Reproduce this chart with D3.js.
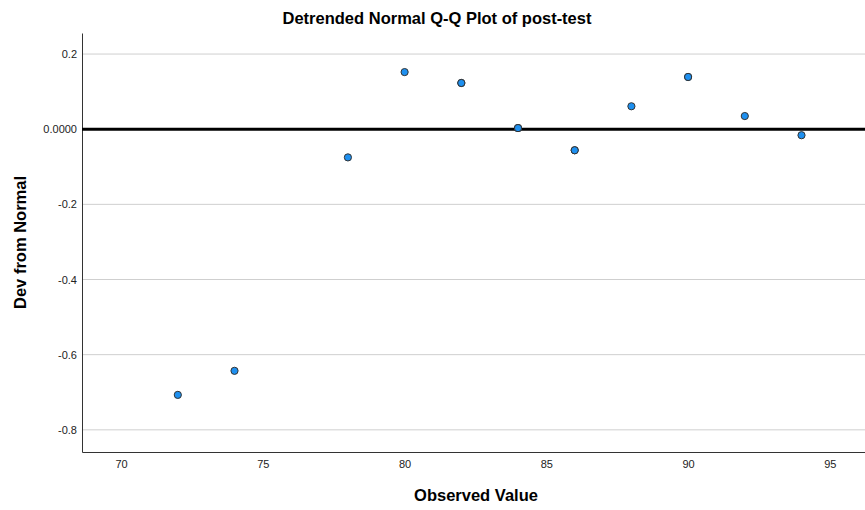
<!DOCTYPE html>
<meta charset="utf-8">
<head>
  <script src="https://d3js.org/d3.v7.min.js"></script>
  <style>
    body { margin: 0; background: #fff; }
    text { font-family: "Liberation Sans", Arial, sans-serif; }
  </style>
</head>
<body>
  <svg width="865" height="510"></svg>
  <script>
    var observed = [72, 74, 78, 80, 82, 84, 86, 88, 90, 92, 94];
    var devFromNormal = [-0.707, -0.643, -0.075, 0.152, 0.123, 0.003, -0.056, 0.061, 0.139, 0.035, -0.016];
    // how many cases share each value (ties are drawn on top of each other)
    var caseCount = [1, 1, 1, 1, 2, 3, 2, 1, 2, 1, 1];
    var yTicks = [0.2, 0, -0.2, -0.4, -0.6, -0.8];
    var yTickLabels = ["0.2", "0.0000", "-0.2", "-0.4", "-0.6", "-0.8"];
    var xTicks = [70, 75, 80, 85, 90, 95];

    var svg = d3.select("svg");
    var margin = {top: 33, right: 0, bottom: 58, left: 82};
    var width = +svg.attr("width") - margin.left - margin.right;
    var height = +svg.attr("height") - margin.top - margin.bottom;

    var x = d3.scaleLinear().domain([68.62, 96.24]).range([0, width]);
    var y = d3.scaleLinear().domain([-0.859, 0.256]).range([height, 0]);

    var g = svg.append("g").attr("transform", "translate(" + margin.left + "," + margin.top + ")");

    // grid lines
    g.selectAll(".grid")
      .data(yTicks.filter(function(d){ return d != 0; }))
      .enter().append("line")
        .attr("x1", 0).attr("x2", width)
        .attr("y1", function(d){ return y(d); })
        .attr("y2", function(d){ return y(d); })
        .attr("stroke", "#cfcfcf")
        .attr("stroke-width", 1);

    // y axis
    var yAxis = g.append("g")
      .call(d3.axisLeft(y).tickValues(yTicks).tickSize(0).tickPadding(5)
        .tickFormat(function(d, i){ return yTickLabels[i]; }));
    yAxis.select(".domain").attr("stroke", "#333");
    yAxis.selectAll("text").style("font-size", "11px").attr("fill", "#222");

    // x axis
    var xAxis = g.append("g")
      .attr("transform", "translate(0," + height + ")")
      .call(d3.axisBottom(x).tickValues(xTicks).tickSize(0).tickPadding(8));
    xAxis.select(".domain").attr("stroke", "#333");
    xAxis.selectAll("text").style("font-size", "11px").attr("fill", "#222");

    // reference line at zero
    g.append("line")
      .attr("x1", 0).attr("x2", width)
      .attr("y1", y(0)).attr("y2", y(0))
      .attr("stroke", "#000")
      .attr("stroke-width", 3);

    // points, repeated for tied cases
    var pts = [];
    observed.forEach(function(v, i){
      for (var k = 0; k < caseCount[i]; k++) pts.push({x: v, y: devFromNormal[i]});
    });
    g.selectAll(".dot")
      .data(pts)
      .enter().append("circle")
        .attr("cx", function(d){ return x(d.x); })
        .attr("cy", function(d){ return y(d.y); })
        .attr("r", 3.6)
        .attr("fill", "#1e90f0")
        .attr("stroke", "#333")
        .attr("stroke-width", 1);

    // titles
    svg.append("text")
      .attr("x", 437).attr("y", 24)
      .attr("text-anchor", "middle")
      .style("font-size", "16.5px").style("font-weight", "bold")
      .text("Detrended Normal Q-Q Plot of post-test");

    svg.append("text")
      .attr("x", 476).attr("y", 501)
      .attr("text-anchor", "middle")
      .style("font-size", "16.5px").style("font-weight", "bold")
      .text("Observed Value");

    svg.append("text")
      .attr("transform", "translate(26," + (margin.top + height / 2) + ") rotate(-90)")
      .attr("text-anchor", "middle")
      .style("font-size", "16.5px").style("font-weight", "bold")
      .text("Dev from Normal");
  </script>
</body>
</html>
